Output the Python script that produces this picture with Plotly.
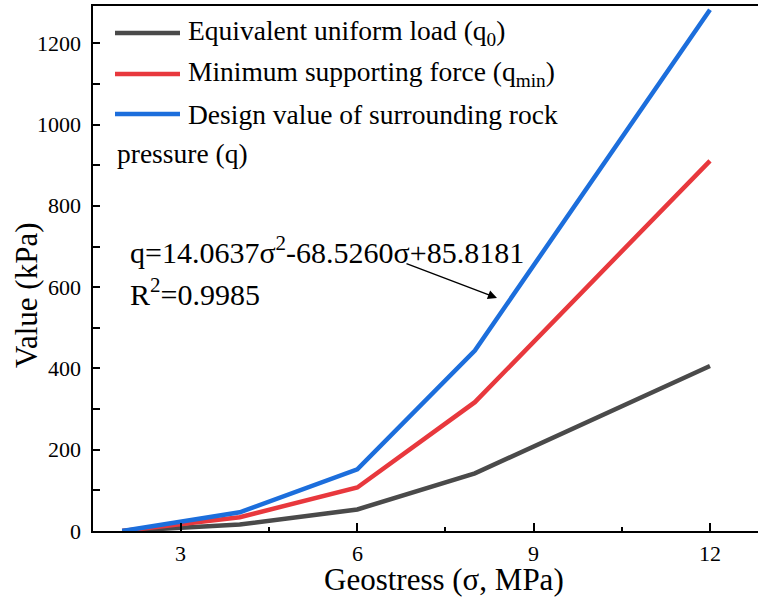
import plotly.graph_objects as go

# Geostress (MPa) and the three load curves (kPa)
geostress = [2, 4, 6, 8, 12]
q0_equivalent = [0, 16, 53, 142, 406]
q_min_support = [0, 34, 107, 317, 911]
q_design = [0, 46, 152, 444, 1283]

series_names = [
    "Equivalent uniform load (q<sub>0</sub>)",
    "Minimum supporting force (q<sub>min</sub>)",
    "Design value of surrounding rock",
]
series_colors = ["#4a4a4a", "#e8383d", "#1c6edc"]

x_ticks = [3, 6, 9, 12]
y_ticks = [0, 200, 400, 600, 800, 1000, 1200]

W, H = 758, 598
L, R, T, B = 93, 0, 6, 67
PW, PH = W - L - R, H - T - B
FONT = "Liberation Serif"


def px(x):
    return (x - L) / PW


def py(y):
    return (H - B - y) / PH


fig = go.Figure()
for ys, name, col in zip([q0_equivalent, q_min_support, q_design], series_names, series_colors):
    fig.add_trace(go.Scatter(x=geostress, y=ys, mode="lines", name=name,
                             line=dict(color=col, width=4.5), showlegend=False))

# hand-drawn legend block (wrapped last entry)
legend_rows = [33, 74, 114]
for yy, name, col in zip(legend_rows, series_names, series_colors):
    fig.add_shape(type="line", xref="paper", yref="paper",
                  x0=px(115), x1=px(180), y0=py(yy), y1=py(yy),
                  line=dict(color=col, width=4.5))
    fig.add_annotation(xref="paper", yref="paper", x=px(186), y=py(yy),
                       text=name, showarrow=False, xanchor="left", yanchor="middle",
                       font=dict(family=FONT, size=27.5, color="black"))
fig.add_annotation(xref="paper", yref="paper", x=px(115), y=py(153),
                   text="pressure (q)", showarrow=False, xanchor="left", yanchor="middle",
                   font=dict(family=FONT, size=27.5, color="black"))

# fitted equation with arrow
fig.add_annotation(xref="paper", yref="paper", x=px(128), y=py(250),
                   text="q=14.0637σ<sup>2</sup>-68.5260σ+85.8181", showarrow=False,
                   xanchor="left", yanchor="middle",
                   font=dict(family=FONT, size=30, color="black"))
fig.add_annotation(xref="paper", yref="paper", x=px(128), y=py(292),
                   text="R<sup>2</sup>=0.9985", showarrow=False,
                   xanchor="left", yanchor="middle",
                   font=dict(family=FONT, size=30, color="black"))
fig.add_annotation(xref="paper", yref="paper", x=px(497), y=py(298),
                   ax=405 - 497, ay=263 - 298, axref="pixel", ayref="pixel",
                   text="", showarrow=True, arrowhead=2, arrowsize=1.3,
                   arrowwidth=1.4, arrowcolor="black")

# tick labels in the serif face
for v in x_ticks:
    fig.add_annotation(xref="x", yref="paper", x=v, y=py(553), text=str(v),
                       showarrow=False, xanchor="center", yanchor="middle",
                       font=dict(family=FONT, size=22, color="black"))
for v in y_ticks:
    fig.add_annotation(xref="paper", yref="y", x=px(83), y=v, text=str(v),
                       showarrow=False, xanchor="right", yanchor="middle",
                       font=dict(family=FONT, size=22, color="black"))

# axis titles
fig.add_annotation(xref="paper", yref="paper", x=px(444), y=py(579),
                   text="Geostress (σ, MPa)", showarrow=False,
                   xanchor="center", yanchor="middle",
                   font=dict(family=FONT, size=31, color="black"))
fig.add_annotation(xref="paper", yref="paper", x=px(26), y=py(296),
                   text="Value (kPa)", showarrow=False, textangle=-90,
                   xanchor="center", yanchor="middle",
                   font=dict(family=FONT, size=31, color="black"))

fig.update_xaxes(range=[1.503, 12.817], tickvals=x_ticks, showticklabels=False,
                 ticks="inside", ticklen=8, tickwidth=1.5, tickcolor="black",
                 minor=dict(dtick=1.5, tick0=1.5, ticks="inside", ticklen=4,
                            tickwidth=1.5, tickcolor="black"),
                 showline=True, linecolor="black", linewidth=1.8, mirror=True,
                 showgrid=False, zeroline=False)
fig.update_yaxes(range=[0, 1292], tickvals=y_ticks, showticklabels=False,
                 ticks="inside", ticklen=7, tickwidth=1.5, tickcolor="black",
                 minor=dict(dtick=100, tick0=0, ticks="inside", ticklen=7,
                            tickwidth=1.5, tickcolor="black"),
                 showline=True, linecolor="black", linewidth=1.8, mirror=False,
                 showgrid=False, zeroline=False)

fig.update_layout(width=W, height=H, margin=dict(l=L, r=R, t=T, b=B),
                  plot_bgcolor="white", paper_bgcolor="white",
                  font=dict(family=FONT, color="black"))

fig.write_html("out.html")
